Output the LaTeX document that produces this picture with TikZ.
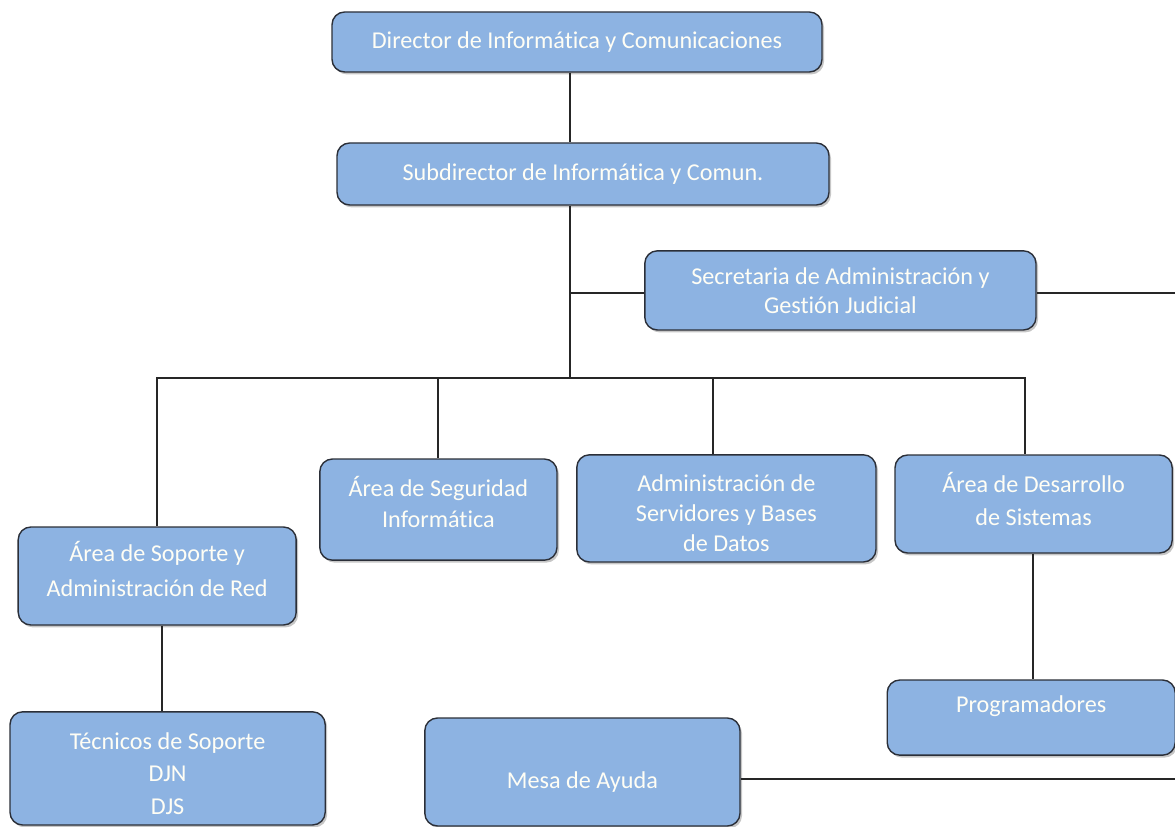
\documentclass[tikz,border=0pt]{standalone}
\usepackage{fontspec}
\setmainfont{Carlito}[Ligatures=NoCommon]
\usetikzlibrary{shadows}
\definecolor{cajaazul}{HTML}{8DB3E2}
\definecolor{borde}{HTML}{2B2F38}
\tikzstyle{cargo}=[rectangle,rounded corners=9pt,fill=cajaazul,draw=borde,line width=1pt,
  drop shadow={opacity=0.45,shadow xshift=0.05cm,shadow yshift=-0.06cm},inner sep=0pt]
\tikzstyle{rotulo}=[text=white!96!yellow,align=center,inner sep=0pt]
\tikzstyle{linea} = [draw,line width=0.8pt,black!85]

\begin{document}
\begin{tikzpicture}

    \useasboundingbox (0,0) rectangle (29.375,-20.675);

     \foreach \x/\y/\w/\h/\dy/\ls/\name/\texto in {
        14.425/-1.05/12.25/1.5/0/20.5/dir/{Director de Informática y Comunicaciones},
        14.575/-4.35/12.3/1.55/0/20.5/sub/{Subdirector de Informática y Comun.},
        21.01/-7.26/9.78/1.98/0/20.6/sec/{Secretaria de Administración y\\Gestión Judicial},
        10.96/-12.74/5.93/2.53/0.2/22/seg/{Área de Seguridad\\Informática},
        18.16/-12.71/7.48/2.68/-0.125/21.3/serv/{Administración de\\Servidores y Bases\\de Datos},
        25.84/-12.6/6.93/2.45/0.125/23.5/des/{Área de Desarrollo\\de Sistemas},
        3.93/-14.4/6.95/2.45/0.175/24.9/sop/{Área de Soporte y\\Administración de Red},
        25.78/-17.94/7.2/1.88/0.28/20.5/prog/{Programadores},
        4.19/-19.21/7.88/2.83/-0.125/23.1/tec/{Técnicos de Soporte\\DJN\\DJS},
        14.56/-19.3/7.88/2.7/-0.25/20.5/mesa/{Mesa de Ayuda}}
        \node[cargo, minimum width=\w cm, minimum height=\h cm,
              label={[rotulo, yshift=\dy cm, font=\fontsize{17.2}{\ls}\selectfont]center:{\texto}}]
              (\name) at (\x,\y) {};

    % tronco y barra
    \coordinate (bus) at (14.25,-9.45);
    \coordinate (ramal) at (14.25,-7.325);
    \coordinate (fin) at (29.375,0);

    \path[linea] (14.25,0 |- dir.south) -- (14.25,0 |- sub.north);
    \path[linea] (14.25,0 |- sub.south) -- (bus);
    \path[linea] (ramal) -- (sec.west |- ramal);
    \path[linea] (sec.east |- ramal) -- (fin |- ramal);

    \foreach \dest/\xx in {sop/3.925, seg/10.95, serv/17.825, des/25.625}
        \path[linea] (bus) -| (\xx,0 |- \dest.north);

    \path[linea] (25.825,0 |- des.south) -- (25.825,0 |- prog.north);
    \path[linea] (4.05,0 |- sop.south) -- (4.05,0 |- tec.north);
    \path[linea] (mesa.east |- 0,-19.475) -- (fin |- 0,-19.475);

\end{tikzpicture}
\end{document}
